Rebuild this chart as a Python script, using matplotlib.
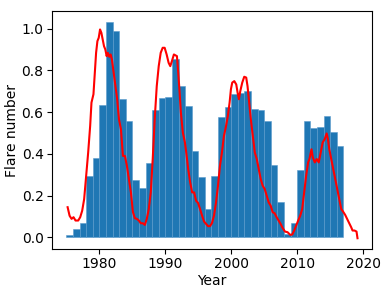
import matplotlib
matplotlib.use("Agg")
import matplotlib.pyplot as plt
import numpy as np

# yearly flare number (normalised)
bar_years = np.arange(1975, 2017)
bar_values = [
    0.012, 0.040, 0.068, 0.295, 0.378, 0.633, 1.033, 0.990, 0.665, 0.560,
    0.274, 0.234, 0.357, 0.609, 0.670, 0.675, 0.857, 0.724, 0.630, 0.414,
    0.288, 0.134, 0.295, 0.579, 0.625, 0.686, 0.694, 0.700, 0.617, 0.610,
    0.560, 0.347, 0.168, 0.015, 0.067, 0.324, 0.558, 0.526, 0.528, 0.580,
    0.505, 0.440,
]

# smoothed sunspot curve (normalised)
line_years = [
    1975.18, 1975.48, 1975.78, 1976.08, 1976.38, 1976.79, 1977.09, 1977.39, 1977.69, 1977.99,
    1978.30, 1978.60, 1978.80, 1979.10, 1979.30, 1979.50, 1979.70, 1979.90, 1980.10, 1980.30,
    1980.50, 1980.70, 1980.90, 1981.10, 1981.27, 1981.50, 1981.70, 1981.90, 1982.10, 1982.40,
    1982.70, 1982.97, 1983.27, 1983.57, 1983.87, 1984.17, 1984.47, 1984.78, 1985.08, 1985.38,
    1985.68, 1985.98, 1986.28, 1986.58, 1986.89, 1987.19, 1987.49, 1987.79, 1988.09, 1988.39,
    1988.70, 1989.00, 1989.30, 1989.60, 1989.90, 1990.20, 1990.50, 1990.75, 1991.00, 1991.30,
    1991.60, 1991.76, 1991.96, 1992.17, 1992.36, 1992.66, 1992.97, 1993.17, 1993.47, 1993.77,
    1994.07, 1994.37, 1994.67, 1994.97, 1995.27, 1995.58, 1995.88, 1996.18, 1996.48, 1996.78,
    1997.08, 1997.38, 1997.69, 1997.99, 1998.29, 1998.59, 1998.89, 1999.19, 1999.49, 1999.75,
    1999.95, 2000.15, 2000.46, 2000.76, 2000.96, 2001.16, 2001.37, 2001.67, 2001.97, 2002.27,
    2002.47, 2002.67, 2002.97, 2003.27, 2003.57, 2003.87, 2004.17, 2004.47, 2004.77, 2005.08,
    2005.38, 2005.68, 2005.98, 2006.28, 2006.58, 2006.88, 2007.18, 2007.48, 2007.78, 2008.15,
    2008.54, 2008.95, 2009.25, 2009.55, 2009.85, 2010.15, 2010.46, 2010.76, 2011.06, 2011.36,
    2011.66, 2011.86, 2012.17, 2012.37, 2012.67, 2012.97, 2013.27, 2013.57, 2013.87, 2014.17,
    2014.47, 2014.67, 2014.87, 2015.17, 2015.48, 2015.78, 2016.08, 2016.38, 2016.68, 2016.98,
    2017.28, 2017.58, 2017.88, 2018.19, 2018.40, 2018.70, 2019.00, 2019.15,
]
line_values = [
    0.144, 0.103, 0.088, 0.096, 0.080, 0.080, 0.096, 0.127, 0.183, 0.295,
    0.407, 0.534, 0.646, 0.686, 0.789, 0.885, 0.941, 0.957, 0.997, 0.981,
    0.949, 0.917, 0.901, 0.869, 0.885, 0.866, 0.877, 0.853, 0.805, 0.730,
    0.662, 0.566, 0.518, 0.390, 0.390, 0.343, 0.279, 0.215, 0.122, 0.091,
    0.088, 0.080, 0.067, 0.067, 0.059, 0.088, 0.135, 0.215, 0.375, 0.566,
    0.725, 0.821, 0.885, 0.909, 0.909, 0.877, 0.837, 0.821, 0.845, 0.877,
    0.872, 0.869, 0.789, 0.694, 0.598, 0.502, 0.455, 0.407, 0.327, 0.263,
    0.215, 0.215, 0.175, 0.164, 0.135, 0.103, 0.075, 0.064, 0.053, 0.053,
    0.068, 0.103, 0.167, 0.247, 0.343, 0.407, 0.486, 0.530, 0.582, 0.646,
    0.710, 0.742, 0.749, 0.733, 0.694, 0.662, 0.701, 0.742, 0.770, 0.766,
    0.725, 0.662, 0.566, 0.486, 0.407, 0.375, 0.327, 0.279, 0.247, 0.231,
    0.199, 0.167, 0.151, 0.120, 0.115, 0.096, 0.080, 0.064, 0.045, 0.027,
    0.024, 0.011, 0.013, 0.032, 0.056, 0.080, 0.103, 0.135, 0.215, 0.295,
    0.359, 0.375, 0.422, 0.383, 0.359, 0.375, 0.359, 0.407, 0.455, 0.470,
    0.498, 0.470, 0.422, 0.375, 0.327, 0.279, 0.231, 0.183, 0.135, 0.122,
    0.107, 0.088, 0.068, 0.048, 0.032, 0.032, 0.027, -0.005,
]

fig, ax = plt.subplots(figsize=(3.9, 2.93), dpi=100)
fig.subplots_adjust(left=0.133, right=0.954, top=0.962, bottom=0.150)

ax.bar(bar_years, bar_values, width=1.0, align="edge", color="#1f77b4",
       edgecolor="#5b9bcc", linewidth=0.4)
ax.plot(line_years, line_values, color="red", linewidth=1.5)

ax.set_xlabel("Year", fontsize=10, labelpad=2)
ax.set_ylabel("Flare number", fontsize=10, labelpad=2)
ax.set_yticks([0.0, 0.2, 0.4, 0.6, 0.8, 1.0])
ax.set_xticks([1980, 1990, 2000, 2010, 2020])
ax.tick_params(labelsize=10, pad=2.5)

fig.savefig("out.png", dpi=100)
